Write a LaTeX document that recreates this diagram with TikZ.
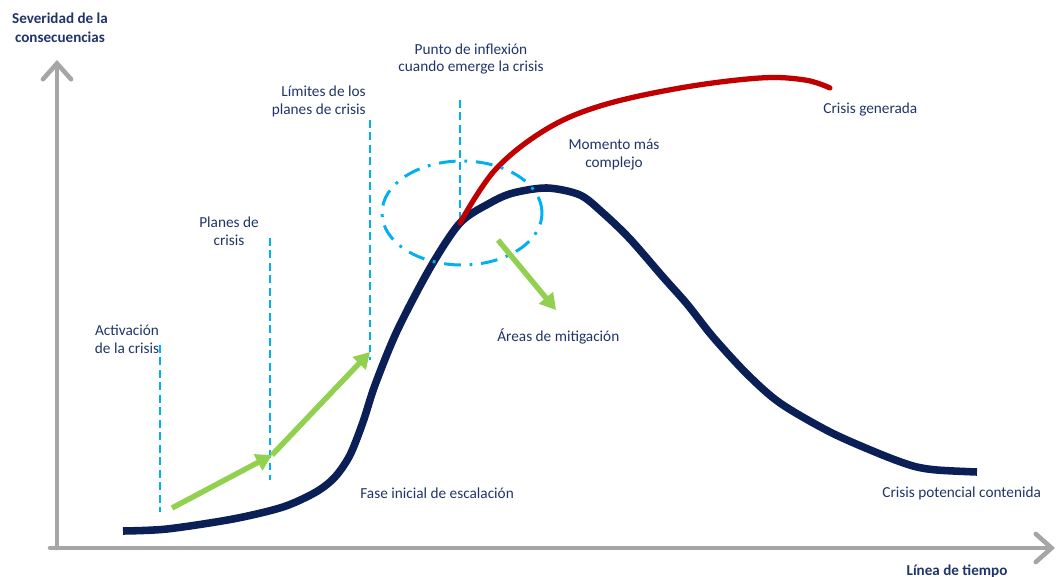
\documentclass[tikz,border=0pt]{standalone}
\usepackage{fontspec}
\setmainfont{Carlito}
\usetikzlibrary{arrows.meta,shapes.geometric}
\definecolor{navy}{HTML}{0A1F56}
\definecolor{txt}{HTML}{1F3468}
\definecolor{crisisred}{HTML}{C00000}
\definecolor{lgreen}{HTML}{92D050}
\definecolor{cyanline}{HTML}{00B0F0}
\definecolor{axisgray}{HTML}{A6A6A6}
\tikzset{
  axis/.style={draw=axisgray,line width=2.6pt,line cap=round,-{Straight Barb[length=9pt,width=16pt,line cap=round]}},
  lbl/.style={text=txt,font=\fontsize{8.7pt}{10.2pt}\selectfont,align=center,inner sep=0pt},
  blbl/.style={lbl,font=\bfseries\fontsize{8.6pt}{10.8pt}\selectfont},
  vdash/.style={draw=cyanline,line width=1.1pt,dash pattern=on 4.5pt off 2.6pt},
  garrow/.style={draw=lgreen,line width=3.1pt,-{Triangle[length=9pt,width=10pt]}},
}
\begin{document}
\begin{tikzpicture}[x=0.02cm,y=-0.02cm]
\useasboundingbox (0,0) rectangle (1060,577);
% axes
\coordinate (o) at (57,548);
\coordinate (ytip) at (57,60);
\coordinate (xs) at (50,548);
\coordinate (xtip) at (1055,548);
\draw[axis] (o) -- (ytip);
\draw[axis] (xs) -- (xtip);
% dashed verticals
\coordinate (d1a) at (160,345); \coordinate (d1b) at (160,512);
\coordinate (d2a) at (270,238); \coordinate (d2b) at (270,480);
\coordinate (d3a) at (370,120); \coordinate (d3b) at (370,360);
\coordinate (d4a) at (460,100); \coordinate (d4b) at (460,222);
\draw[vdash] (d1a) -- (d1b);
\draw[vdash] (d2a) -- (d2b);
\draw[vdash] (d3a) -- (d3b);
\draw[vdash] (d4a) -- (d4b);
% curves
\coordinate (inf) at (460,223);
\draw[navy,line width=4.3pt] plot[smooth,tension=0.5] coordinates {(123,531) (167,529) (233,519) (283,507) (316,492) (335,477) (350,455) (363,422) (375,385) (397,331) (430,268) (inf) (490,203) (513,193) (547,188) (580,195) (603,213) (630,239) (663,277) (687,304) (713,337) (747,374) (780,403) (830,432) (880,454) (913,466) (937,470) (977,472)};
\draw[crisisred,line width=3pt,line cap=round] plot[smooth,tension=0.6] coordinates {(inf) (495,170) (545,130) (600,106) (680,88) (760,78) (805,80) (830,88)};
% ellipse
\node[draw=cyanline,line width=1.7pt,dash pattern=on 9.5pt off 5pt on 1.6pt off 5pt,ellipse,minimum width=160*0.02cm,minimum height=104*0.02cm,inner sep=0pt] (ell) at (462,213) {};
% green arrows
\coordinate (g1) at (172,508); \coordinate (g2) at (272,455); \coordinate (g3) at (370,352);
\coordinate (g4) at (498,240); \coordinate (g5) at (556,310);
\draw[garrow] (g1) -- (g2);
\draw[garrow] (g2) -- (g3);
\draw[garrow] (g4) -- (g5);
% labels
\node[blbl] (ylab) at (60,28) {Severidad de la\\consecuencias};
\node[blbl,anchor=center] (xlab) at (957,571) {Línea de tiempo};
\node[lbl] (act) at (127,339) {Activación\\de la crisis};
\node[lbl] (plan) at (229,231) {Planes de\\crisis};
\node[lbl,align=right,anchor=east] (lim) at (366,101) {Límites de los\\planes de crisis};
\node[lbl] (punto) at (471,59) {Punto de inflexión\\cuando emerge la crisis};
\node[lbl,anchor=west] (gen) at (823,110) {Crisis generada};
\node[lbl] (mom) at (614,155) {Momento más\\complejo};
\node[lbl,anchor=west] (areas) at (497,336) {Áreas de mitigación};
\node[lbl,anchor=west] (fase) at (360,493) {Fase inicial de escalación};
\node[lbl,anchor=west] (cont) at (882,493) {Crisis potencial contenida};
\end{tikzpicture}
\end{document}
